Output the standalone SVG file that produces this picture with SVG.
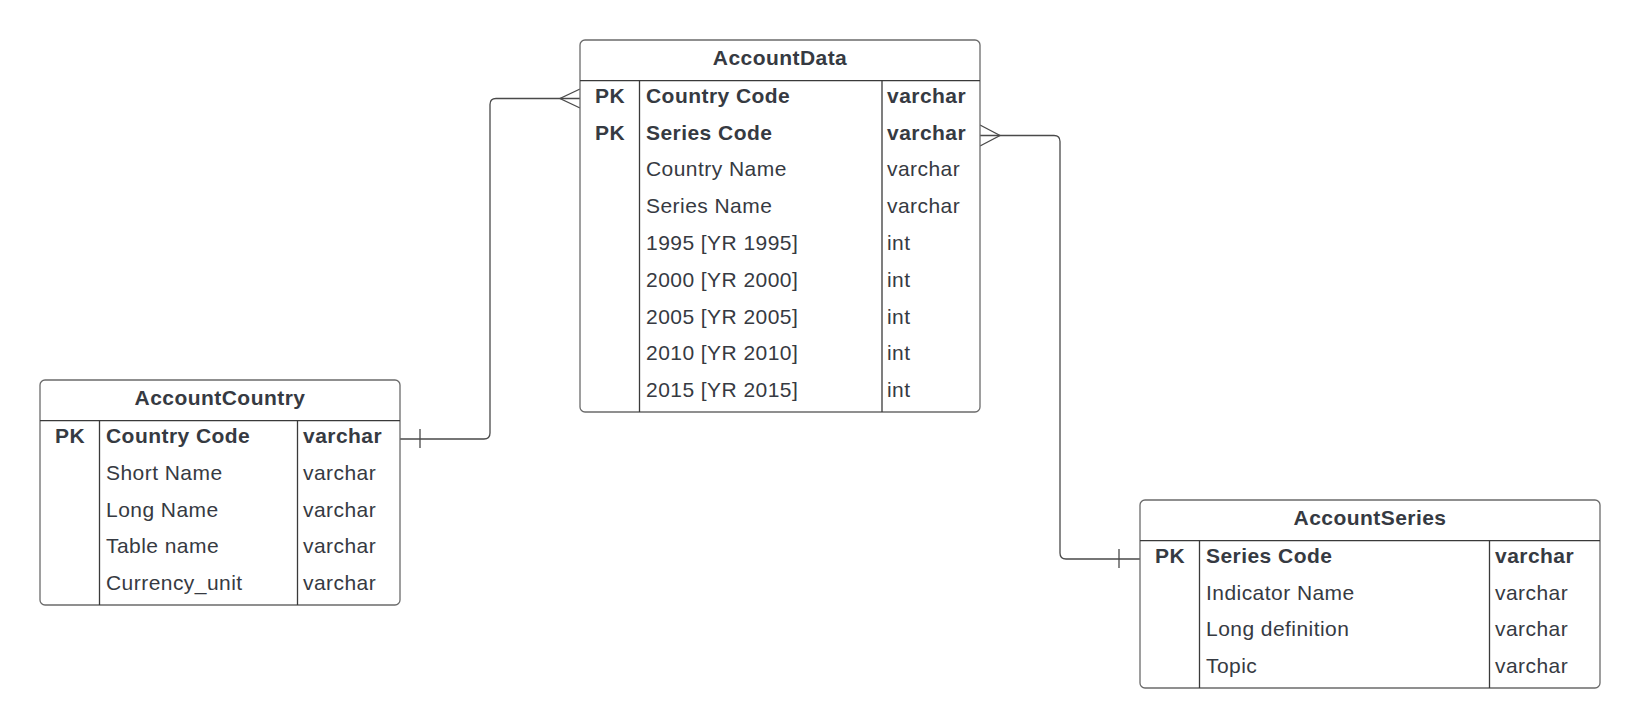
<svg xmlns="http://www.w3.org/2000/svg" width="1640" height="728" viewBox="0 0 1640 728">
<style>
.box{fill:#ffffff;stroke:#6b6b6b;stroke-width:1.3}
.sep{stroke:#3a3a3a;stroke-width:1.3}
.t{font-family:"Liberation Sans",Arial,sans-serif;font-size:21px;letter-spacing:0.45px;fill:#363a42}
.b{font-weight:bold}
.title{font-weight:bold;text-anchor:middle}
.pk{font-weight:bold;text-anchor:middle}
.conn{fill:none;stroke:#4a4a4a;stroke-width:1.3}
</style>
<rect width="1640" height="728" fill="#ffffff"/>
<g id="connectors">
  <path class="conn" d="M400,439 H484 Q490,439 490,433 V104.5 Q490,98.5 496,98.5 H580"/>
  <path class="conn" d="M420,429 V448"/>
  <path class="conn" d="M580,89 L560,98.5 L580,108"/>
  <path class="conn" d="M980,135.5 H1054 Q1060,135.5 1060,141.5 V553 Q1060,559 1066,559 H1140"/>
  <path class="conn" d="M1119,549 V568"/>
  <path class="conn" d="M980,125 L1000,135.5 L980,146"/>
</g>
<g id="AccountData">
  <rect class="box" x="580" y="40" width="400" height="372" rx="5"/>
  <line class="sep" x1="580" y1="80.7" x2="980" y2="80.7"/>
  <line class="sep" x1="639.5" y1="80.7" x2="639.5" y2="412"/>
  <line class="sep" x1="882" y1="80.7" x2="882" y2="412"/>
  <text class="t title" x="780" y="64.5">AccountData</text>
  <text class="t pk" x="610" y="102.8">PK</text>
  <text class="t b" x="646" y="102.8">Country Code</text>
  <text class="t b" x="887" y="102.8">varchar</text>
  <text class="t pk" x="610" y="139.6">PK</text>
  <text class="t b" x="646" y="139.6">Series Code</text>
  <text class="t b" x="887" y="139.6">varchar</text>
  <text class="t" x="646" y="176.4">Country Name</text>
  <text class="t" x="887" y="176.4">varchar</text>
  <text class="t" x="646" y="213.2">Series Name</text>
  <text class="t" x="887" y="213.2">varchar</text>
  <text class="t" x="646" y="250">1995 [YR 1995]</text>
  <text class="t" x="887" y="250">int</text>
  <text class="t" x="646" y="286.8">2000 [YR 2000]</text>
  <text class="t" x="887" y="286.8">int</text>
  <text class="t" x="646" y="323.6">2005 [YR 2005]</text>
  <text class="t" x="887" y="323.6">int</text>
  <text class="t" x="646" y="360.4">2010 [YR 2010]</text>
  <text class="t" x="887" y="360.4">int</text>
  <text class="t" x="646" y="397.2">2015 [YR 2015]</text>
  <text class="t" x="887" y="397.2">int</text>
</g>
<g id="AccountCountry">
  <rect class="box" x="40" y="380" width="360" height="225" rx="5"/>
  <line class="sep" x1="40" y1="420.7" x2="400" y2="420.7"/>
  <line class="sep" x1="99.5" y1="420.7" x2="99.5" y2="605"/>
  <line class="sep" x1="297.5" y1="420.7" x2="297.5" y2="605"/>
  <text class="t title" x="220" y="404.8">AccountCountry</text>
  <text class="t pk" x="70" y="443">PK</text>
  <text class="t b" x="106" y="443">Country Code</text>
  <text class="t b" x="303" y="443">varchar</text>
  <text class="t" x="106" y="479.8">Short Name</text>
  <text class="t" x="303" y="479.8">varchar</text>
  <text class="t" x="106" y="516.6">Long Name</text>
  <text class="t" x="303" y="516.6">varchar</text>
  <text class="t" x="106" y="553.4">Table name</text>
  <text class="t" x="303" y="553.4">varchar</text>
  <text class="t" x="106" y="590.2">Currency_unit</text>
  <text class="t" x="303" y="590.2">varchar</text>
</g>
<g id="AccountSeries">
  <rect class="box" x="1140" y="500" width="460" height="188" rx="5"/>
  <line class="sep" x1="1140" y1="540.7" x2="1600" y2="540.7"/>
  <line class="sep" x1="1199.5" y1="540.7" x2="1199.5" y2="688"/>
  <line class="sep" x1="1489.5" y1="540.7" x2="1489.5" y2="688"/>
  <text class="t title" x="1370" y="524.8">AccountSeries</text>
  <text class="t pk" x="1170" y="562.8">PK</text>
  <text class="t b" x="1206" y="562.8">Series Code</text>
  <text class="t b" x="1495" y="562.8">varchar</text>
  <text class="t" x="1206" y="599.6">Indicator Name</text>
  <text class="t" x="1495" y="599.6">varchar</text>
  <text class="t" x="1206" y="636.4">Long definition</text>
  <text class="t" x="1495" y="636.4">varchar</text>
  <text class="t" x="1206" y="673.2">Topic</text>
  <text class="t" x="1495" y="673.2">varchar</text>
</g>
</svg>
